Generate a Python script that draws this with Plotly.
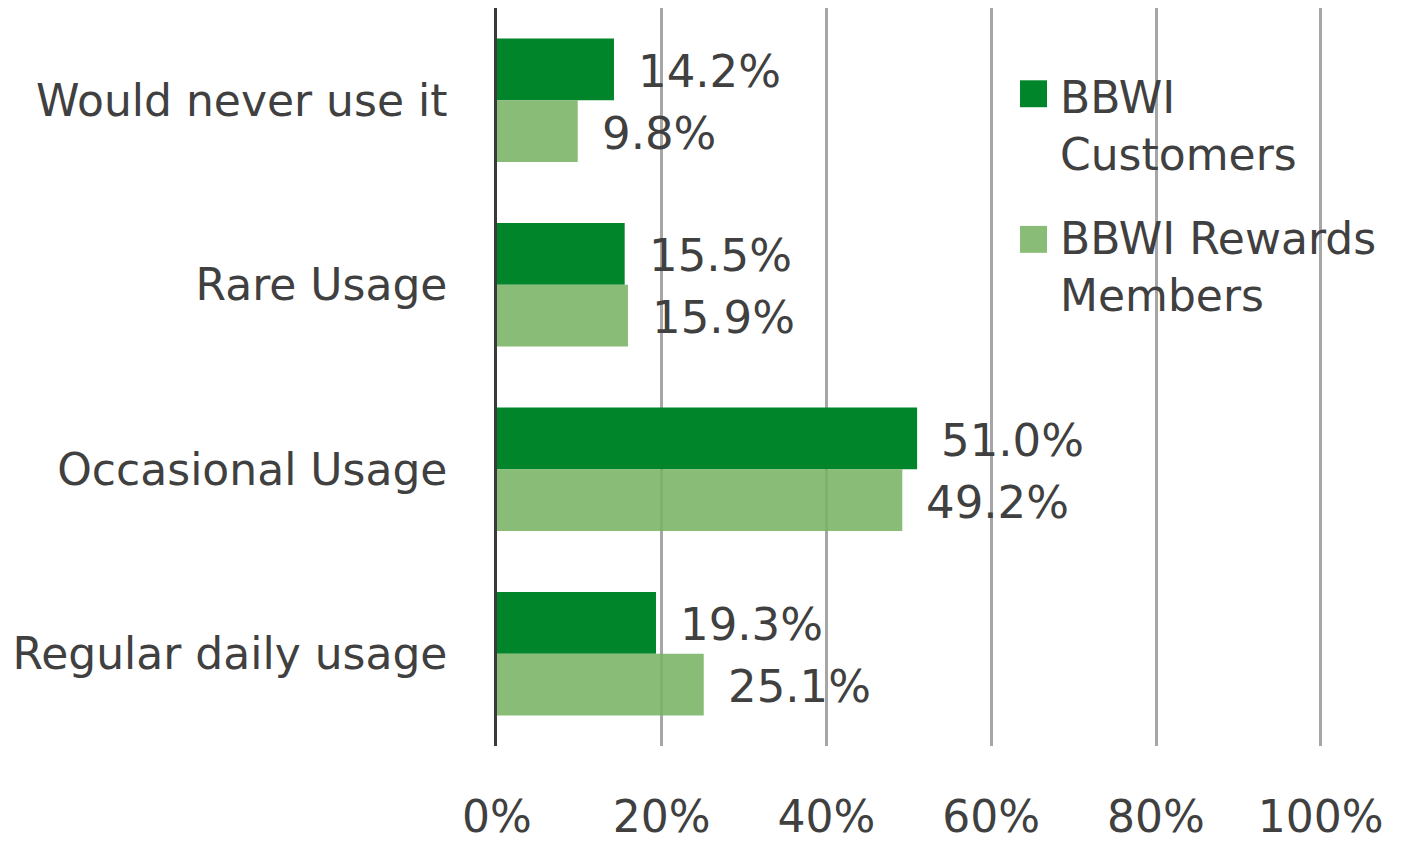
import plotly.graph_objects as go

categories = ["Would never use it", "Rare Usage", "Occasional Usage", "Regular daily usage"]
customers = [0.142, 0.155, 0.510, 0.193]
rewards = [0.098, 0.159, 0.492, 0.251]
series_names = ["BBWI<br>Customers", "BBWI Rewards<br>Members"]
x_ticks = [0, 0.2, 0.4, 0.6, 0.8, 1.0]
x_tick_labels = ["0%", "20%", "40%", "60%", "80%", "100%"]

TEXT = "#404040"
FONT = "DejaVu Sans"
DARK = "rgb(0,133,42)"
LIGHT = "rgba(121,179,100,0.88)"

W, H = 1401, 834
L, R, T, B = 489, 80, 0, 94
PW, PH = W - L - R, H - T - B


def px(fx):
    return (fx - L) / PW


def py(fy):
    return (H - B - fy) / PH


fig = go.Figure()
fig.add_trace(go.Bar(
    y=categories, x=customers, orientation="h", name=series_names[0],
    marker=dict(color=DARK, line=dict(width=0)), showlegend=False,
))
fig.add_trace(go.Bar(
    y=categories, x=rewards, orientation="h", name=series_names[1],
    marker=dict(color=LIGHT, line=dict(width=0)), showlegend=False,
))

for cat, v in zip(categories, customers):
    fig.add_annotation(x=v, y=cat, text=f"{v*100:.1f}%", showarrow=False,
                       xanchor="left", yanchor="middle", xshift=22, yshift=29,
                       font=dict(family=FONT, size=45, color=TEXT))
for cat, v in zip(categories, rewards):
    fig.add_annotation(x=v, y=cat, text=f"{v*100:.1f}%", showarrow=False,
                       xanchor="left", yanchor="middle", xshift=22, yshift=-33,
                       font=dict(family=FONT, size=45, color=TEXT))

# custom legend
legend_items = [(series_names[0], "rgb(0,133,42)", 86, 118),
                (series_names[1], "rgb(137,188,119)", 232, 260)]
for name, col, sq_cy, txt_cy in legend_items:
    fig.add_shape(type="rect", xref="paper", yref="paper",
                  x0=px(1012), x1=px(1039), y0=py(sq_cy + 13.5), y1=py(sq_cy - 13.5),
                  fillcolor=col, line=dict(width=0), layer="above")
    fig.add_annotation(xref="paper", yref="paper", x=px(1050), y=py(txt_cy),
                       text=name, showarrow=False, xanchor="left", yanchor="middle",
                       align="left", font=dict(family=FONT, size=44, color=TEXT))

fig.update_layout(
    width=W, height=H,
    margin=dict(l=L, r=R, t=T, b=B),
    paper_bgcolor="white", plot_bgcolor="white",
    barmode="group", bargap=0.33, bargroupgap=0,
    font=dict(family=FONT, size=44, color=TEXT),
    showlegend=False,
    xaxis=dict(range=[0, 1.01], tickvals=x_ticks, ticktext=x_tick_labels,
               showgrid=True, gridcolor="#a6a6a6", gridwidth=2.5,
               zeroline=False, showline=False, ticks="",
               ticklabelstandoff=41,
               tickfont=dict(family=FONT, size=44, color=TEXT)),
    yaxis=dict(autorange="reversed", showline=True, linecolor="#3a3a3a", linewidth=2.5,
               showgrid=False, ticks="", ticklabelstandoff=38,
               tickfont=dict(family=FONT, size=44, color=TEXT)),
)

fig.write_html("out.html")
